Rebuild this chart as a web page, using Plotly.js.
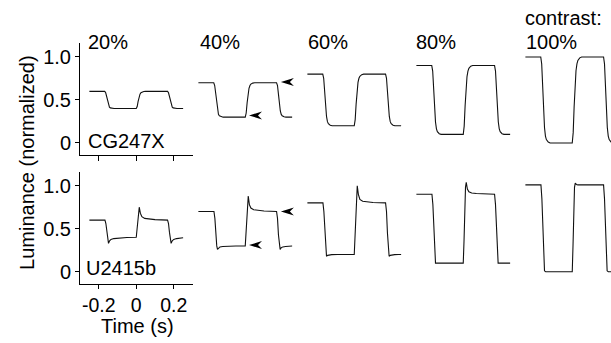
<!DOCTYPE html>
<html>
<head>
<meta charset="utf-8">
<script src="https://cdn.plot.ly/plotly-3.0.1.min.js"></script>
<style>html,body{margin:0;padding:0;background:#fff;}#chart{width:611px;height:343px;}</style>
</head>
<body>
<div id="chart"></div>
<script>
// ---- data ----
const contrastLabels = ['20%', '40%', '60%', '80%', '100%'];
const displayNames = ['CG247X', 'U2415b'];
const yTickVals = [0, 0.5, 1.0];
const yTickText = ['0', '0.5', '1.0'];
const xTickVals = [-0.2, 0, 0.2];
const xTickText = ['-0.2', '0', '0.2'];

// CG247X (top row): time samples (s) and luminance per contrast
const timeCG = [-0.25, -0.168, -0.163, -0.158, -0.153, -0.148, -0.143, -0.138, -0.128, -0.118,
  0.0, 0.005, 0.01, 0.015, 0.02, 0.025, 0.03, 0.04, 0.05,
  0.167, 0.172, 0.177, 0.182, 0.187, 0.192, 0.197, 0.207, 0.217, 0.25];
const cg20 = [0.6, 0.6, 0.584, 0.534, 0.476, 0.436, 0.416, 0.408, 0.402, 0.4,
  0.4, 0.424, 0.484, 0.536, 0.568, 0.584, 0.592, 0.598, 0.6,
  0.6, 0.584, 0.534, 0.476, 0.436, 0.416, 0.408, 0.402, 0.4, 0.4];
const cg40 = [0.7, 0.7, 0.668, 0.568, 0.452, 0.372, 0.332, 0.316, 0.304, 0.3,
  0.3, 0.348, 0.468, 0.572, 0.636, 0.668, 0.684, 0.696, 0.7,
  0.7, 0.668, 0.568, 0.452, 0.372, 0.332, 0.316, 0.304, 0.3, 0.3];
const cg60 = [0.8, 0.8, 0.752, 0.602, 0.428, 0.308, 0.248, 0.224, 0.206, 0.2,
  0.2, 0.272, 0.452, 0.608, 0.704, 0.752, 0.776, 0.794, 0.8,
  0.8, 0.752, 0.602, 0.428, 0.308, 0.248, 0.224, 0.206, 0.2, 0.2];
const cg80 = [0.9, 0.9, 0.836, 0.636, 0.404, 0.244, 0.164, 0.132, 0.108, 0.1,
  0.1, 0.196, 0.436, 0.644, 0.772, 0.836, 0.868, 0.892, 0.9,
  0.9, 0.836, 0.636, 0.404, 0.244, 0.164, 0.132, 0.108, 0.1, 0.1];
const cg100 = [1.0, 1.0, 0.92, 0.67, 0.38, 0.18, 0.08, 0.04, 0.01, 0.0,
  0.0, 0.12, 0.42, 0.68, 0.84, 0.92, 0.96, 0.99, 1.0,
  1.0, 0.92, 0.67, 0.38, 0.18, 0.08, 0.04, 0.01, 0.0, 0.0];

// U2415b (bottom row)
const timeU = [-0.25, -0.167, -0.162, -0.157, -0.152, -0.148, -0.142, -0.135, -0.12, -0.09, -0.05,
  0.0, 0.004, 0.008, 0.012, 0.016, 0.022, 0.03, 0.045, 0.07, 0.1,
  0.167, 0.172, 0.177, 0.182, 0.186, 0.192, 0.2, 0.215, 0.235, 0.25];
const u20 = [0.6, 0.6, 0.56, 0.46, 0.37, 0.33, 0.36, 0.375, 0.385, 0.393, 0.398,
  0.4, 0.48, 0.6, 0.72, 0.75, 0.68, 0.64, 0.62, 0.61, 0.605,
  0.6, 0.56, 0.46, 0.37, 0.33, 0.36, 0.375, 0.385, 0.392, 0.395];
const u40 = [0.7, 0.7, 0.62, 0.43, 0.3, 0.26, 0.28, 0.288, 0.293, 0.297, 0.299,
  0.3, 0.45, 0.68, 0.85, 0.88, 0.78, 0.74, 0.72, 0.71, 0.705,
  0.7, 0.62, 0.43, 0.3, 0.26, 0.28, 0.288, 0.293, 0.296, 0.298];
const u60 = [0.8, 0.8, 0.7, 0.45, 0.24, 0.18, 0.19, 0.195, 0.198, 0.2, 0.2,
  0.2, 0.4, 0.7, 0.95, 1.0, 0.9, 0.84, 0.82, 0.81, 0.805,
  0.8, 0.7, 0.45, 0.24, 0.18, 0.19, 0.195, 0.198, 0.2, 0.2];
const u80 = [0.9, 0.9, 0.78, 0.45, 0.15, 0.1, 0.1, 0.1, 0.1, 0.1, 0.1,
  0.1, 0.35, 0.72, 0.98, 1.04, 0.96, 0.93, 0.915, 0.91, 0.905,
  0.9, 0.78, 0.45, 0.15, 0.1, 0.1, 0.1, 0.1, 0.1, 0.1];
const u100 = [1.01, 1.01, 0.85, 0.45, 0.08, 0.01, 0.0, 0.0, 0.0, 0.0, 0.0,
  0.0, 0.3, 0.7, 0.98, 1.03, 1.015, 1.01, 1.01, 1.01, 1.01,
  1.01, 0.85, 0.45, 0.08, 0.01, 0.0, 0.0, 0.0, 0.0, 0.0];

// arrowhead markers in the 40% panels: [time, luminance]
const arrowsTop = [[0.19, 0.71], [0.02, 0.32]];
const arrowsBottom = [[0.19, 0.70], [0.02, 0.31]];

// ---- layout geometry ----
const W = 611, H = 343;
const font = 'Liberation Sans, Arial, Helvetica, sans-serif';
const FS = 20;
const pxPerSec = 187.5;
const panelLeft = [80, 189, 298, 407, 516];
const xr = [-0.3, 0.3];

const topSeries = [cg20, cg40, cg60, cg80, cg100];
const botSeries = [u20, u40, u60, u80, u100];

const line = {color: '#111', width: 1.1};
const data = [];
const xAxisNames = ['x', 'x2', 'x3', 'x4', 'x5'];
for (let i = 0; i < 5; i++) {
  data.push({type: 'scatter', mode: 'lines', x: timeCG, y: topSeries[i], xaxis: xAxisNames[i], yaxis: 'y',
    line: line, hoverinfo: 'skip', showlegend: false});
  data.push({type: 'scatter', mode: 'lines', x: timeU, y: botSeries[i], xaxis: i === 0 ? 'x6' : xAxisNames[i], yaxis: 'y2',
    line: line, hoverinfo: 'skip', showlegend: false});
}

function xDomain(i) {
  const l = panelLeft[i];
  const r = Math.min(W, l + (xr[1] - xr[0]) * pxPerSec);
  return [l / W, r / W];
}
function xRange(i) {
  const d = xDomain(i);
  return [xr[0], xr[0] + (d[1] - d[0]) * W / pxPerSec];
}

const axisCommon = {showgrid: false, zeroline: false, showline: true, linecolor: '#000', linewidth: 1,
  ticks: 'outside', tickcolor: '#000', tickwidth: 1, automargin: false,
  tickfont: {family: font, size: FS, color: '#000'}};

const layout = {
  width: W, height: H,
  margin: {l: 0, r: 0, t: 0, b: 0},
  paper_bgcolor: '#fff', plot_bgcolor: 'rgba(0,0,0,0)',
  font: {family: font, size: FS, color: '#000'},
  showlegend: false,
  xaxis: Object.assign({}, axisCommon, {domain: xDomain(0), range: xRange(0), anchor: 'y', ticklen: 5,
    tickvals: xTickVals, showticklabels: false}),
  xaxis6: Object.assign({}, axisCommon, {domain: xDomain(0), range: xRange(0), anchor: 'y2', ticklen: 4,
    tickvals: xTickVals, ticktext: xTickText, tickfont: {family: font, size: 19.5, color: '#000'}}),
  yaxis: Object.assign({}, axisCommon, {domain: [0.5481, 0.87405], range: [-0.14, 1.16], anchor: 'x', ticklen: 4,
    tickvals: yTickVals, ticktext: yTickText}),
  yaxis2: Object.assign({}, axisCommon, {domain: [0.17277, 0.49872], range: [-0.14, 1.16], anchor: 'x6', ticklen: 4,
    tickvals: yTickVals, ticktext: yTickText}),
  annotations: [],
  shapes: []
};
for (let i = 1; i < 5; i++) {
  layout['xaxis' + (i + 1)] = {domain: xDomain(i), range: xRange(i), anchor: 'y', visible: false, fixedrange: true};
}

function ann(text, xpx, ypx, xanchor, extra) {
  return Object.assign({text: text, xref: 'paper', yref: 'paper', x: xpx / W, y: 1 - ypx / H,
    xanchor: xanchor, yanchor: 'middle', showarrow: false, font: {family: font, size: FS, color: '#000'}}, extra || {});
}
const labelX = [86, 198, 306, 414, 524];
for (let i = 0; i < 5; i++) layout.annotations.push(ann(contrastLabels[i], labelX[i], 42, 'left'));
layout.annotations.push(ann('contrast:', 523, 18, 'left'));
layout.annotations.push(ann(displayNames[0], 86, 141, 'left'));
layout.annotations.push(ann(displayNames[1], 84, 268, 'left'));
layout.annotations.push(ann('Time (s)', 137, 326, 'center', {borderpad: 0}));
layout.annotations.push(ann('Luminance (normalized)', 26.4, 162.5, 'center', {textangle: -90}));

function arrowShape(xref, yref, pt) {
  return {type: 'path', xref: xref, yref: yref, xsizemode: 'pixel', ysizemode: 'pixel',
    xanchor: pt[0], yanchor: pt[1], path: 'M0,0 L13,-4 L9,0 L13,4 Z',
    fillcolor: '#000', line: {width: 0}};
}
arrowsTop.forEach(p => layout.shapes.push(arrowShape('x2', 'y', p)));
arrowsBottom.forEach(p => layout.shapes.push(arrowShape('x2', 'y2', p)));

Plotly.newPlot('chart', data, layout, {staticPlot: true, displayModeBar: false});
</script>
</body>
</html>
